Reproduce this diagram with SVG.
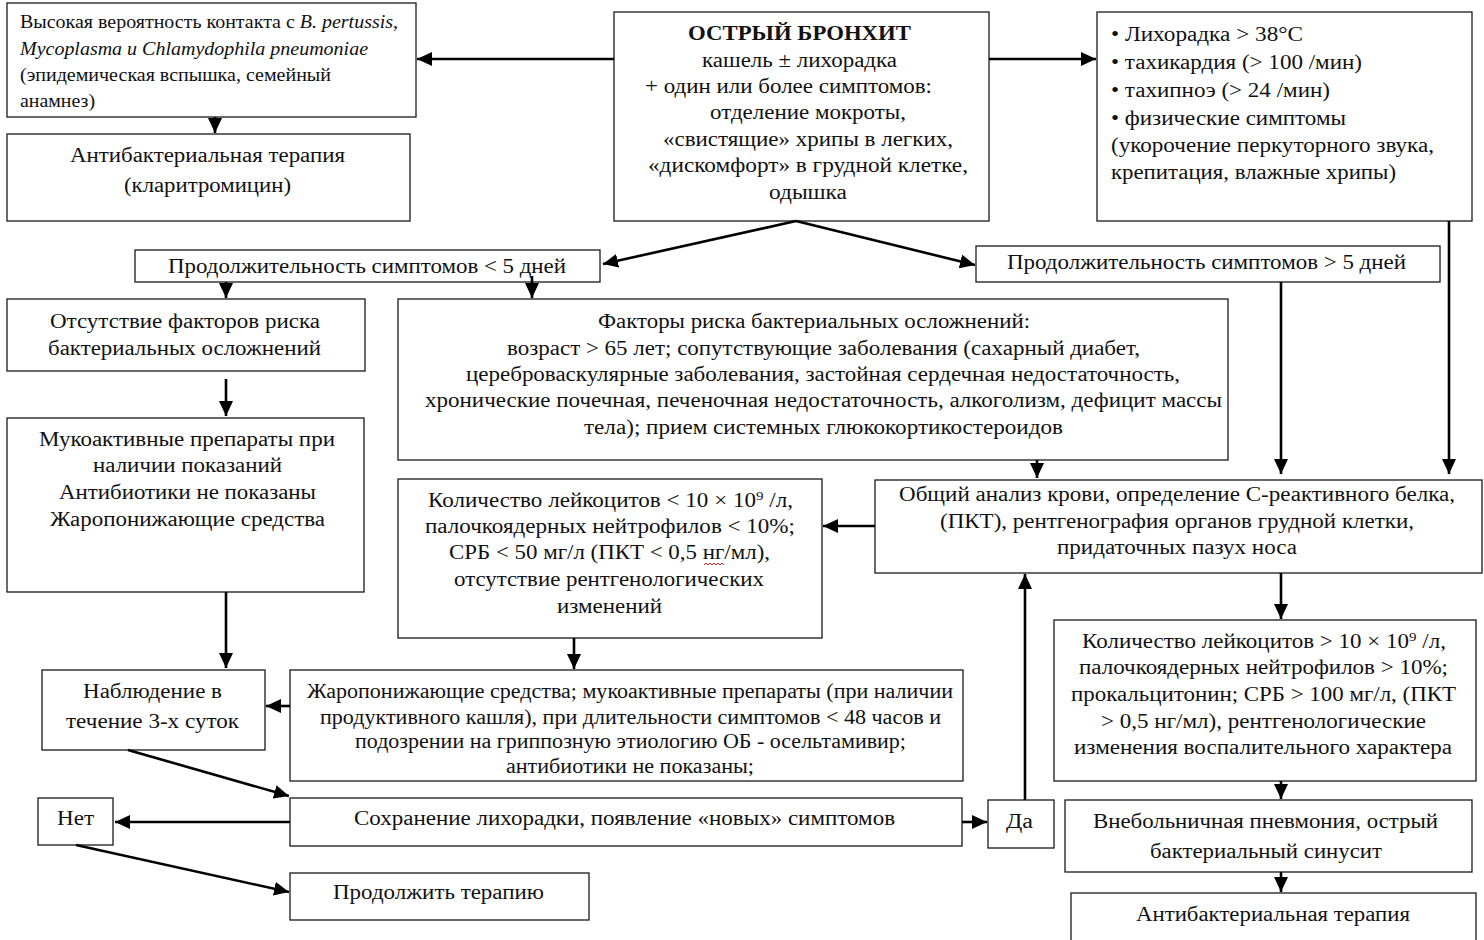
<svg xmlns="http://www.w3.org/2000/svg" width="1484" height="940" viewBox="0 0 1484 940">
<defs>
<style>
.box{fill:#fff;stroke:#1a1a1a;stroke-width:1.3}
.t{font-family:"Liberation Serif","Times New Roman",serif;font-size:20px;fill:#111}
.s{font-size:18px}
.b{font-weight:bold}
.i{font-style:italic}
.c{stroke:#000;stroke-width:2.6;fill:none;marker-end:url(#ah)}
</style>
<marker id="ah" markerUnits="userSpaceOnUse" markerWidth="16" markerHeight="14" refX="15" refY="7" orient="auto">
<path d="M0,0 L15,7 L0,14 z" fill="#000"/>
</marker>
</defs>
<rect width="1484" height="940" fill="#fff"/>

<g id="n-contact">
<rect class="box" x="7" y="3" width="409" height="114"/>
<text class="t s" x="20" y="28" textLength="378" lengthAdjust="spacingAndGlyphs">Высокая вероятность контакта с <tspan class="i">B. pertussis,</tspan></text>
<text class="t s i" x="20" y="55" textLength="348" lengthAdjust="spacingAndGlyphs">Mycoplasma и Chlamydophila pneumoniae</text>
<text class="t s" x="20" y="81" textLength="311" lengthAdjust="spacingAndGlyphs">(эпидемическая вспышка, семейный</text>
<text class="t s" x="20" y="107" textLength="75" lengthAdjust="spacingAndGlyphs">анамнез)</text>
</g>

<g id="n-clar">
<rect class="box" x="7" y="134" width="403" height="87"/>
<text class="t" x="70" y="162" textLength="275" lengthAdjust="spacingAndGlyphs">Антибактериальная терапия</text>
<text class="t" x="124" y="192" textLength="167" lengthAdjust="spacingAndGlyphs">(кларитромицин)</text>
</g>

<g id="n-bronch">
<rect class="box" x="614" y="12" width="375" height="209"/>
<text class="t b" x="688" y="40" textLength="223" lengthAdjust="spacingAndGlyphs">ОСТРЫЙ БРОНХИТ</text>
<text class="t" x="702" y="67" textLength="195" lengthAdjust="spacingAndGlyphs">кашель ± лихорадка</text>
<text class="t" x="645" y="93" textLength="287" lengthAdjust="spacingAndGlyphs">+ один или более симптомов:</text>
<text class="t" x="710" y="119" textLength="196" lengthAdjust="spacingAndGlyphs">отделение мокроты,</text>
<text class="t" x="663" y="146" textLength="290" lengthAdjust="spacingAndGlyphs">«свистящие» хрипы в легких,</text>
<text class="t" x="648" y="172" textLength="320" lengthAdjust="spacingAndGlyphs">«дискомфорт» в грудной клетке,</text>
<text class="t" x="769" y="199" textLength="78" lengthAdjust="spacingAndGlyphs">одышка</text>
</g>

<g id="n-signs">
<rect class="box" x="1097" y="12" width="375" height="209"/>
<text class="t" x="1111" y="41" textLength="192" lengthAdjust="spacingAndGlyphs">• Лихорадка &gt; 38°С</text>
<text class="t" x="1111" y="69" textLength="251" lengthAdjust="spacingAndGlyphs">• тахикардия (&gt; 100 /мин)</text>
<text class="t" x="1111" y="97" textLength="219" lengthAdjust="spacingAndGlyphs">• тахипноэ (&gt; 24 /мин)</text>
<text class="t" x="1111" y="125" textLength="235" lengthAdjust="spacingAndGlyphs">• физические симптомы</text>
<text class="t" x="1111" y="152" textLength="323" lengthAdjust="spacingAndGlyphs">(укорочение перкуторного звука,</text>
<text class="t" x="1111" y="179" textLength="285" lengthAdjust="spacingAndGlyphs">крепитация, влажные хрипы)</text>
</g>

<g id="n-lt5">
<rect class="box" x="135" y="250" width="465" height="32"/>
<text class="t" x="168" y="273" textLength="398" lengthAdjust="spacingAndGlyphs">Продолжительность симптомов &lt; 5 дней</text>
</g>

<g id="n-gt5">
<rect class="box" x="976" y="246" width="464" height="36"/>
<text class="t" x="1007" y="269" textLength="399" lengthAdjust="spacingAndGlyphs">Продолжительность симптомов &gt; 5 дней</text>
</g>

<g id="n-norisk">
<rect class="box" x="7" y="299" width="358" height="72"/>
<text class="t" x="50" y="328" textLength="270" lengthAdjust="spacingAndGlyphs">Отсутствие факторов риска</text>
<text class="t" x="48" y="355" textLength="273" lengthAdjust="spacingAndGlyphs">бактериальных осложнений</text>
</g>

<g id="n-risk">
<rect class="box" x="398" y="299" width="830" height="161"/>
<text class="t" x="598" y="328" textLength="432" lengthAdjust="spacingAndGlyphs">Факторы риска бактериальных осложнений:</text>
<text class="t" x="507" y="355" textLength="633" lengthAdjust="spacingAndGlyphs">возраст &gt; 65 лет; сопутствующие заболевания (сахарный диабет,</text>
<text class="t" x="466" y="381" textLength="714" lengthAdjust="spacingAndGlyphs">цереброваскулярные заболевания, застойная сердечная недостаточность,</text>
<text class="t" x="425" y="407" textLength="797" lengthAdjust="spacingAndGlyphs">хронические почечная, печеночная недостаточность, алкоголизм, дефицит массы</text>
<text class="t" x="584" y="434" textLength="479" lengthAdjust="spacingAndGlyphs">тела); прием системных глюкокортикостероидов</text>
</g>

<g id="n-muco">
<rect class="box" x="7" y="418" width="357" height="174"/>
<text class="t" x="39" y="446" textLength="296" lengthAdjust="spacingAndGlyphs">Мукоактивные препараты при</text>
<text class="t" x="93" y="472" textLength="189" lengthAdjust="spacingAndGlyphs">наличии показаний</text>
<text class="t" x="59" y="499" textLength="257" lengthAdjust="spacingAndGlyphs">Антибиотики не показаны</text>
<text class="t" x="50" y="526" textLength="275" lengthAdjust="spacingAndGlyphs">Жаропонижающие средства</text>
</g>

<g id="n-lowlab">
<rect class="box" x="398" y="479" width="424" height="159"/>
<text class="t" x="428" y="507" textLength="365" lengthAdjust="spacingAndGlyphs">Количество лейкоцитов &lt; 10 × 10<tspan dy="-7" font-size="13">9</tspan><tspan dy="7"> /л,</tspan></text>
<text class="t" x="425" y="533" textLength="370" lengthAdjust="spacingAndGlyphs">палочкоядерных нейтрофилов &lt; 10%;</text>
<text class="t" x="449" y="559" textLength="321" lengthAdjust="spacingAndGlyphs">СРБ &lt; 50 мг/л (ПКТ &lt; 0,5 нг/мл),</text>
<path d="M704,565 l2,-2 l2,2 l2,-2 l2,2 l2,-2 l2,2 l2,-2 l2,2 l2,-2 l2,2" fill="none" stroke="#e02020" stroke-width="1"/>
<text class="t" x="454" y="586" textLength="310" lengthAdjust="spacingAndGlyphs">отсутствие рентгенологических</text>
<text class="t" x="557" y="613" textLength="105" lengthAdjust="spacingAndGlyphs">изменений</text>
</g>

<g id="n-tests">
<rect class="box" x="875" y="480" width="607" height="93"/>
<text class="t" x="899" y="501" textLength="556" lengthAdjust="spacingAndGlyphs">Общий анализ крови, определение С-реактивного белка,</text>
<text class="t" x="940" y="528" textLength="474" lengthAdjust="spacingAndGlyphs">(ПКТ), рентгенография органов грудной клетки,</text>
<text class="t" x="1057" y="554" textLength="240" lengthAdjust="spacingAndGlyphs">придаточных пазух носа</text>
</g>

<g id="n-highlab">
<rect class="box" x="1054" y="620" width="422" height="161"/>
<text class="t" x="1082" y="648" textLength="364" lengthAdjust="spacingAndGlyphs">Количество лейкоцитов &gt; 10 × 10<tspan dy="-7" font-size="13">9</tspan><tspan dy="7"> /л,</tspan></text>
<text class="t" x="1079" y="674" textLength="369" lengthAdjust="spacingAndGlyphs">палочкоядерных нейтрофилов &gt; 10%;</text>
<text class="t" x="1071" y="701" textLength="385" lengthAdjust="spacingAndGlyphs">прокальцитонин; СРБ &gt; 100 мг/л, (ПКТ</text>
<text class="t" x="1101" y="728" textLength="325" lengthAdjust="spacingAndGlyphs">&gt; 0,5 нг/мл), рентгенологические</text>
<text class="t" x="1074" y="754" textLength="378" lengthAdjust="spacingAndGlyphs">изменения воспалительного характера</text>
</g>

<g id="n-observe">
<rect class="box" x="42" y="670" width="223" height="80"/>
<text class="t" x="83" y="698" textLength="139" lengthAdjust="spacingAndGlyphs">Наблюдение в</text>
<text class="t" x="66" y="728" textLength="173" lengthAdjust="spacingAndGlyphs">течение 3-х суток</text>
</g>

<g id="n-antipyr">
<rect class="box" x="290" y="670" width="673" height="111"/>
<text class="t" x="307" y="698" textLength="646" lengthAdjust="spacingAndGlyphs">Жаропонижающие средства; мукоактивные препараты (при наличии</text>
<text class="t" x="320" y="724" textLength="621" lengthAdjust="spacingAndGlyphs">продуктивного кашля), при длительности симптомов &lt; 48 часов и</text>
<text class="t" x="355" y="748" textLength="551" lengthAdjust="spacingAndGlyphs">подозрении на гриппозную этиологию ОБ - осельтамивир;</text>
<text class="t" x="506" y="773" textLength="248" lengthAdjust="spacingAndGlyphs">антибиотики не показаны;</text>
</g>

<g id="n-persist">
<rect class="box" x="290" y="798" width="672" height="48"/>
<text class="t" x="354" y="825" textLength="541" lengthAdjust="spacingAndGlyphs">Сохранение лихорадки, появление «новых» симптомов</text>
</g>

<g id="n-no">
<rect class="box" x="38" y="798" width="75" height="47"/>
<text class="t" x="57" y="825" textLength="37" lengthAdjust="spacingAndGlyphs">Нет</text>
</g>

<g id="n-yes">
<rect class="box" x="988" y="800" width="66" height="48"/>
<text class="t" x="1006" y="828" textLength="27" lengthAdjust="spacingAndGlyphs">Да</text>
</g>

<g id="n-continue">
<rect class="box" x="290" y="873" width="299" height="47"/>
<text class="t" x="333" y="899" textLength="211" lengthAdjust="spacingAndGlyphs">Продолжить терапию</text>
</g>

<g id="n-pneum">
<rect class="box" x="1065" y="800" width="407" height="72"/>
<text class="t" x="1093" y="828" textLength="345" lengthAdjust="spacingAndGlyphs">Внебольничная пневмония, острый</text>
<text class="t" x="1150" y="858" textLength="232" lengthAdjust="spacingAndGlyphs">бактериальный синусит</text>
</g>

<g id="n-abx">
<rect class="box" x="1071" y="893" width="405" height="60"/>
<text class="t" x="1136" y="921" textLength="274" lengthAdjust="spacingAndGlyphs">Антибактериальная терапия</text>
</g>

<g id="connectors">
<path class="c" d="M614,59 L417,59"/>
<path class="c" d="M989,59 L1096,59"/>
<path class="c" d="M215,117 L215,133"/>
<path class="c" d="M796,221 L603,264"/>
<path class="c" d="M796,221 L975,265"/>
<path class="c" d="M226,282 L226,298"/>
<path class="c" d="M532,276 L532,298"/>
<path class="c" d="M226,379 L226,416"/>
<path class="c" d="M226,592 L226,668"/>
<path class="c" d="M1037,460 L1037,478"/>
<path class="c" d="M1281,282 L1281,474"/>
<path class="c" d="M1449,221 L1449,474"/>
<path class="c" d="M875,526 L823,526"/>
<path class="c" d="M574,638 L574,669"/>
<path class="c" d="M290,706 L266,706"/>
<path class="c" d="M128,750 L289,796"/>
<path class="c" d="M1281,573 L1281,619"/>
<path class="c" d="M290,822 L115,822"/>
<path class="c" d="M962,822 L987,822"/>
<path class="c" d="M1025,800 L1025,574"/>
<path class="c" d="M76,845 L289,892"/>
<path class="c" d="M1281,781 L1281,799"/>
<path class="c" d="M1281,872 L1281,892"/>
</g>
</svg>
